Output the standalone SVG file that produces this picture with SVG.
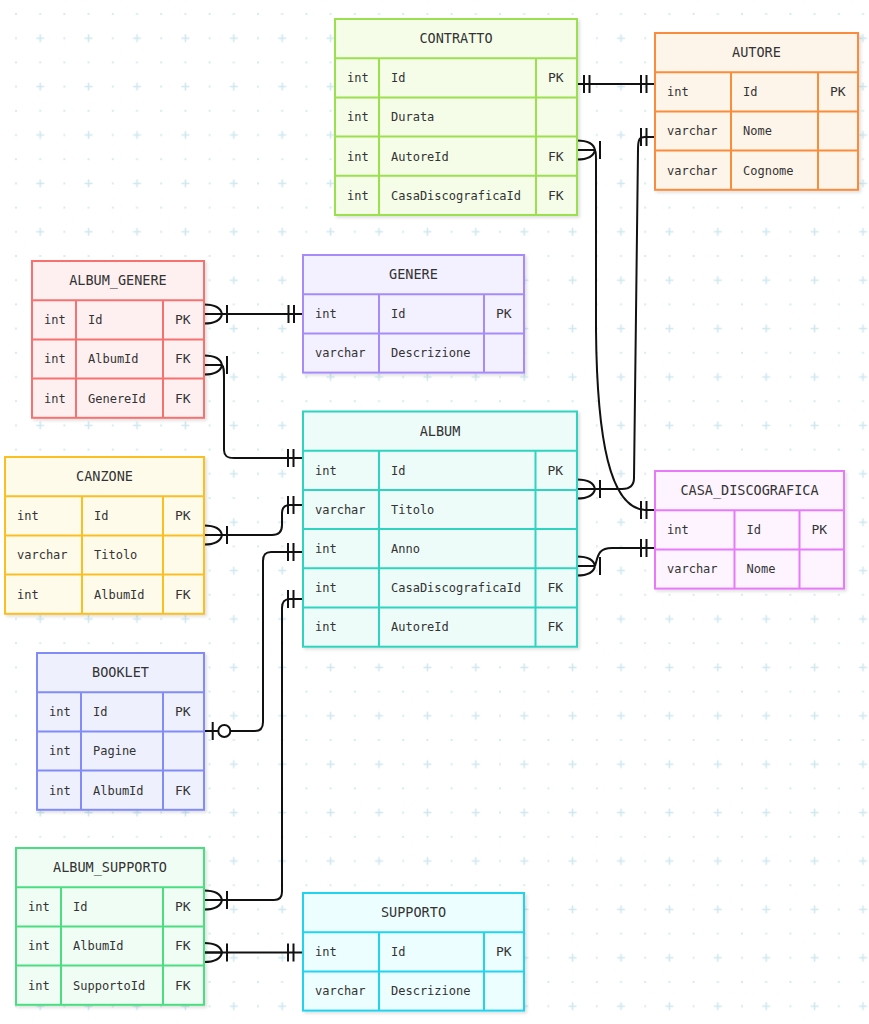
<svg xmlns="http://www.w3.org/2000/svg" width="869" height="1024" viewBox="0 0 869 1024">
<defs>
<pattern id="grid" patternUnits="userSpaceOnUse" x="16" y="14" width="48.4" height="48.4">
<rect x="-1" y="-1" width="2" height="2" fill="#d6ecf0"/>
<rect x="23.2" y="-1" width="2" height="2" fill="#d6ecf0"/>
<rect x="-1" y="23.2" width="2" height="2" fill="#d6ecf0"/>
<rect x="47.4" y="-1" width="2" height="2" fill="#d6ecf0"/>
<rect x="-1" y="47.4" width="2" height="2" fill="#d6ecf0"/>
<rect x="47.4" y="47.4" width="2" height="2" fill="#d6ecf0"/>
<rect x="23.2" y="47.4" width="2" height="2" fill="#d6ecf0"/>
<rect x="47.4" y="23.2" width="2" height="2" fill="#d6ecf0"/>
<path d="M20.2,24.2 H28.2 M24.2,20.2 V28.2" stroke="#cfe8ee" stroke-width="1.6"/>
</pattern>
<filter id="sh" x="-5%" y="-5%" width="115%" height="115%">
<feDropShadow dx="2" dy="2" stdDeviation="1.5" flood-color="#000" flood-opacity="0.12"/>
</filter>
<path id="crow" d="M0,-9.5 C12,-9.5 17,-5 18,0 M0,9.5 C12,9.5 17,5 18,0 M0,0 L18,0 M23,-9 L23,9" fill="none" stroke="#111" stroke-width="2"/>
<path id="bars" d="M0,-9 V9 M5.5,-9 V9" fill="none" stroke="#111" stroke-width="2"/>
</defs>
<style>
.box{stroke-width:2}
.ln{stroke-width:2;fill:none}
.t{font-family:"DejaVu Sans Mono","Liberation Mono",monospace;font-size:12px;fill:#333}
.h{font-size:13.5px;text-anchor:middle}
.k{font-size:13px}
.conn{fill:none;stroke:#111;stroke-width:2}
.c1 .box{fill:#f5fde9;stroke:#9be04f}.c1 .ln{stroke:#9be04f}
.c2 .box{fill:#fef5ea;stroke:#fb8c3c}.c2 .ln{stroke:#fb8c3c}
.c3 .box{fill:#fef0f0;stroke:#f87171}.c3 .ln{stroke:#f87171}
.c4 .box{fill:#f3f0ff;stroke:#a78bfa}.c4 .ln{stroke:#a78bfa}
.c5 .box{fill:#edfcf9;stroke:#2dd4bf}.c5 .ln{stroke:#2dd4bf}
.c6 .box{fill:#fffbeb;stroke:#fbbf24}.c6 .ln{stroke:#fbbf24}
.c7 .box{fill:#fdf4ff;stroke:#e879f9}.c7 .ln{stroke:#e879f9}
.c8 .box{fill:#eef0fd;stroke:#818cf8}.c8 .ln{stroke:#818cf8}
.c9 .box{fill:#f0fdf4;stroke:#4ade80}.c9 .ln{stroke:#4ade80}
.c10 .box{fill:#ecfeff;stroke:#22d3ee}.c10 .ln{stroke:#22d3ee}
</style>
<rect width="869" height="1024" fill="#ffffff"/>
<rect width="869" height="1024" fill="url(#grid)"/>

<g id="connectors">
<path class="conn" d="M577,84 L655,84"/>
<use href="#bars" transform="translate(584,84)"/>
<use href="#bars" transform="translate(641,84)"/>

<use href="#crow" transform="translate(577,150)"/>
<path class="conn" d="M595,150 Q596,150 596,160 L596,330 C597,440 610,508 645,510 L655,510"/>
<use href="#bars" transform="translate(641,510)"/>

<path class="conn" d="M655,137 L645,137 C639,137 638,140 638,150 L634,478 C634,486 630,489 622,489 L595,489"/>
<use href="#bars" transform="translate(641,137)"/>
<use href="#crow" transform="translate(577,489)"/>

<use href="#crow" transform="translate(577,566)"/>
<path class="conn" d="M595,566 C598,556 598,548 612,548 L655,548"/>
<use href="#bars" transform="translate(641,548)"/>

<path class="conn" d="M204,314 L303,314"/>
<use href="#crow" transform="translate(204,314)"/>
<use href="#bars" transform="translate(288.5,314)"/>

<use href="#crow" transform="translate(204,365)"/>
<path class="conn" d="M222,365 C224,367 224,370 224,378 L224,450 C224,456 227,458 234,458 L303,458"/>
<use href="#bars" transform="translate(288,458)"/>

<use href="#crow" transform="translate(204,535)"/>
<path class="conn" d="M222,535 L272,535 C279,535 282,532 282,525 L282,513 C282,508 284,505 290,505 L303,505"/>
<use href="#bars" transform="translate(288,505)"/>

<path class="conn" d="M204,731 L218.3,731 M230.3,731 L255,731 C260,731 263,728 263,722 L263,561 C263,555 265,552 271,552 L303,552"/>
<path class="conn" d="M212.7,722 V740"/>
<circle cx="224.3" cy="731" r="6" fill="#fff" stroke="#111" stroke-width="2"/>
<use href="#bars" transform="translate(288,552)"/>

<use href="#crow" transform="translate(204,900)"/>
<path class="conn" d="M222,900 L274,900 C279,900 282,897 282,892 L282,608 C282,602 284,599 290,599 L303,599"/>
<use href="#bars" transform="translate(288,599)"/>

<path class="conn" d="M204,952.5 L303,952.5"/>
<use href="#crow" transform="translate(204,952.5)"/>
<use href="#bars" transform="translate(288,952.5)"/>
</g>

<g id="CONTRATTO" class="c1">
<rect class="box" x="335" y="19" width="242" height="196" filter="url(#sh)"/>
<path class="ln" d="M335,58.2 H577 M335,97.4 H577 M335,136.6 H577 M335,175.8 H577 M379,58.2 V215 M536,58.2 V215"/>
<text class="t h" x="456" y="43.4">CONTRATTO</text>
<text class="t" x="347" y="82.1">int</text><text class="t" x="391" y="82.1">Id</text><text class="t k" x="548" y="82.1">PK</text>
<text class="t" x="347" y="121.3">int</text><text class="t" x="391" y="121.3">Durata</text>
<text class="t" x="347" y="160.5">int</text><text class="t" x="391" y="160.5">AutoreId</text><text class="t k" x="548" y="160.5">FK</text>
<text class="t" x="347" y="199.7">int</text><text class="t" x="391" y="199.7">CasaDiscograficaId</text><text class="t k" x="548" y="199.7">FK</text>
</g>

<g id="AUTORE" class="c2">
<rect class="box" x="655" y="33" width="203" height="156.8" filter="url(#sh)"/>
<path class="ln" d="M655,72.2 H858 M655,111.4 H858 M655,150.6 H858 M731,72.2 V189.8 M818,72.2 V189.8"/>
<text class="t h" x="756.5" y="57.4">AUTORE</text>
<text class="t" x="667" y="96.1">int</text><text class="t" x="743" y="96.1">Id</text><text class="t k" x="830" y="96.1">PK</text>
<text class="t" x="667" y="135.3">varchar</text><text class="t" x="743" y="135.3">Nome</text>
<text class="t" x="667" y="174.5">varchar</text><text class="t" x="743" y="174.5">Cognome</text>
</g>

<g id="ALBUM_GENERE" class="c3">
<rect class="box" x="32" y="261" width="172" height="156.8" filter="url(#sh)"/>
<path class="ln" d="M32,300.2 H204 M32,339.4 H204 M32,378.6 H204 M76,300.2 V417.8 M163,300.2 V417.8"/>
<text class="t h" x="118" y="285.4">ALBUM_GENERE</text>
<text class="t" x="44" y="324.1">int</text><text class="t" x="88" y="324.1">Id</text><text class="t k" x="175" y="324.1">PK</text>
<text class="t" x="44" y="363.3">int</text><text class="t" x="88" y="363.3">AlbumId</text><text class="t k" x="175" y="363.3">FK</text>
<text class="t" x="44" y="402.5">int</text><text class="t" x="88" y="402.5">GenereId</text><text class="t k" x="175" y="402.5">FK</text>
</g>

<g id="GENERE" class="c4">
<rect class="box" x="303" y="255" width="221" height="117.6" filter="url(#sh)"/>
<path class="ln" d="M303,294.2 H524 M303,333.4 H524 M379,294.2 V372.6 M484,294.2 V372.6"/>
<text class="t h" x="413.5" y="279.4">GENERE</text>
<text class="t" x="315" y="318.1">int</text><text class="t" x="391" y="318.1">Id</text><text class="t k" x="496" y="318.1">PK</text>
<text class="t" x="315" y="357.3">varchar</text><text class="t" x="391" y="357.3">Descrizione</text>
</g>

<g id="ALBUM" class="c5">
<rect class="box" x="303" y="411.5" width="274" height="235.2" filter="url(#sh)"/>
<path class="ln" d="M303,450.7 H577 M303,489.9 H577 M303,529.1 H577 M303,568.3 H577 M303,607.5 H577 M379,450.7 V646.7 M535.5,450.7 V646.7"/>
<text class="t h" x="440" y="435.9">ALBUM</text>
<text class="t" x="315" y="474.6">int</text><text class="t" x="391" y="474.6">Id</text><text class="t k" x="547.5" y="474.6">PK</text>
<text class="t" x="315" y="513.8">varchar</text><text class="t" x="391" y="513.8">Titolo</text>
<text class="t" x="315" y="553">int</text><text class="t" x="391" y="553">Anno</text>
<text class="t" x="315" y="592.2">int</text><text class="t" x="391" y="592.2">CasaDiscograficaId</text><text class="t k" x="547.5" y="592.2">FK</text>
<text class="t" x="315" y="631.4">int</text><text class="t" x="391" y="631.4">AutoreId</text><text class="t k" x="547.5" y="631.4">FK</text>
</g>

<g id="CANZONE" class="c6">
<rect class="box" x="5" y="457" width="199" height="156.8" filter="url(#sh)"/>
<path class="ln" d="M5,496.2 H204 M5,535.4 H204 M5,574.6 H204 M82,496.2 V613.8 M163,496.2 V613.8"/>
<text class="t h" x="104.5" y="481.4">CANZONE</text>
<text class="t" x="17" y="520.1">int</text><text class="t" x="94" y="520.1">Id</text><text class="t k" x="175" y="520.1">PK</text>
<text class="t" x="17" y="559.3">varchar</text><text class="t" x="94" y="559.3">Titolo</text>
<text class="t" x="17" y="598.5">int</text><text class="t" x="94" y="598.5">AlbumId</text><text class="t k" x="175" y="598.5">FK</text>
</g>

<g id="CASA_DISCOGRAFICA" class="c7">
<rect class="box" x="655" y="471" width="189" height="117.6" filter="url(#sh)"/>
<path class="ln" d="M655,510.2 H844 M655,549.4 H844 M734.5,510.2 V588.6 M799.5,510.2 V588.6"/>
<text class="t h" x="749.5" y="495.4">CASA_DISCOGRAFICA</text>
<text class="t" x="667" y="534.1">int</text><text class="t" x="746.5" y="534.1">Id</text><text class="t k" x="811.5" y="534.1">PK</text>
<text class="t" x="667" y="573.3">varchar</text><text class="t" x="746.5" y="573.3">Nome</text>
</g>

<g id="BOOKLET" class="c8">
<rect class="box" x="37" y="653" width="167" height="156.8" filter="url(#sh)"/>
<path class="ln" d="M37,692.2 H204 M37,731.4 H204 M37,770.6 H204 M81,692.2 V809.8 M163,692.2 V809.8"/>
<text class="t h" x="120.5" y="677.4">BOOKLET</text>
<text class="t" x="49" y="716.1">int</text><text class="t" x="93" y="716.1">Id</text><text class="t k" x="175" y="716.1">PK</text>
<text class="t" x="49" y="755.3">int</text><text class="t" x="93" y="755.3">Pagine</text>
<text class="t" x="49" y="794.5">int</text><text class="t" x="93" y="794.5">AlbumId</text><text class="t k" x="175" y="794.5">FK</text>
</g>

<g id="ALBUM_SUPPORTO" class="c9">
<rect class="box" x="16" y="848" width="188" height="156.8" filter="url(#sh)"/>
<path class="ln" d="M16,887.2 H204 M16,926.4 H204 M16,965.6 H204 M61,887.2 V1004.8 M163,887.2 V1004.8"/>
<text class="t h" x="110" y="872.4">ALBUM_SUPPORTO</text>
<text class="t" x="28" y="911.1">int</text><text class="t" x="73" y="911.1">Id</text><text class="t k" x="175" y="911.1">PK</text>
<text class="t" x="28" y="950.3">int</text><text class="t" x="73" y="950.3">AlbumId</text><text class="t k" x="175" y="950.3">FK</text>
<text class="t" x="28" y="989.5">int</text><text class="t" x="73" y="989.5">SupportoId</text><text class="t k" x="175" y="989.5">FK</text>
</g>

<g id="SUPPORTO" class="c10">
<rect class="box" x="303" y="893" width="221" height="117.6" filter="url(#sh)"/>
<path class="ln" d="M303,932.2 H524 M303,971.4 H524 M379,932.2 V1010.6 M484,932.2 V1010.6"/>
<text class="t h" x="413.5" y="917.4">SUPPORTO</text>
<text class="t" x="315" y="956.1">int</text><text class="t" x="391" y="956.1">Id</text><text class="t k" x="496" y="956.1">PK</text>
<text class="t" x="315" y="995.3">varchar</text><text class="t" x="391" y="995.3">Descrizione</text>
</g>
</svg>
